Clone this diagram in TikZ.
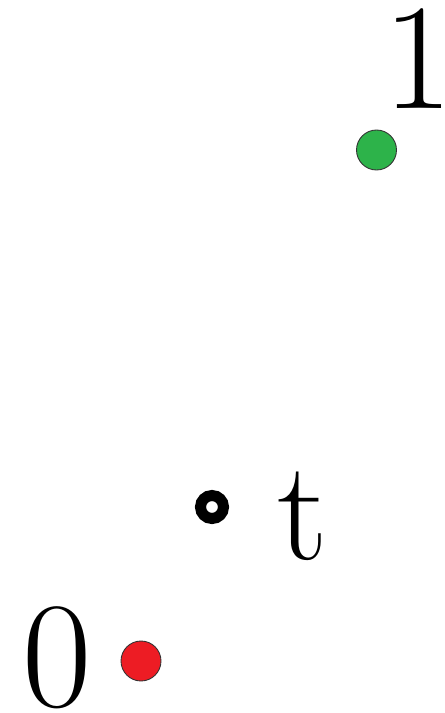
\documentclass[tikz,border=0pt]{standalone}
\usepackage{tikz}
\usetikzlibrary{positioning}
\definecolor{dotgreen}{RGB}{45,179,74}
\definecolor{dotred}{RGB}{237,28,36}

\begin{document}
\begin{tikzpicture}[x=0.02cm,y=-0.02cm]
 \tikzset{
   pointdot/.style={circle,draw=black!80,line width=0.5pt,minimum size=0.8cm,inner sep=0pt},
   biglabel/.style={inner sep=0pt,font=\fontsize{86}{86}\selectfont}
 }
 \useasboundingbox (0,0) rectangle (444,713);
 \node[pointdot,fill=dotgreen] (one) at (376.5,150) {};
 \node[biglabel] (onelabel) at (418,59) {1};
 \node[pointdot,fill=dotred] (zero) at (141,661) {};
 \node[biglabel] (zerolabel) at (57,658) {0};
 \node[circle,draw,line width=0.22cm,minimum size=0.46cm,inner sep=0pt] (tpoint) at (212,507) {};
 \node[inner sep=0pt,font=\fontsize{81}{81}\selectfont] (tlabel) at (303,516) {t};
\end{tikzpicture}
\end{document}
